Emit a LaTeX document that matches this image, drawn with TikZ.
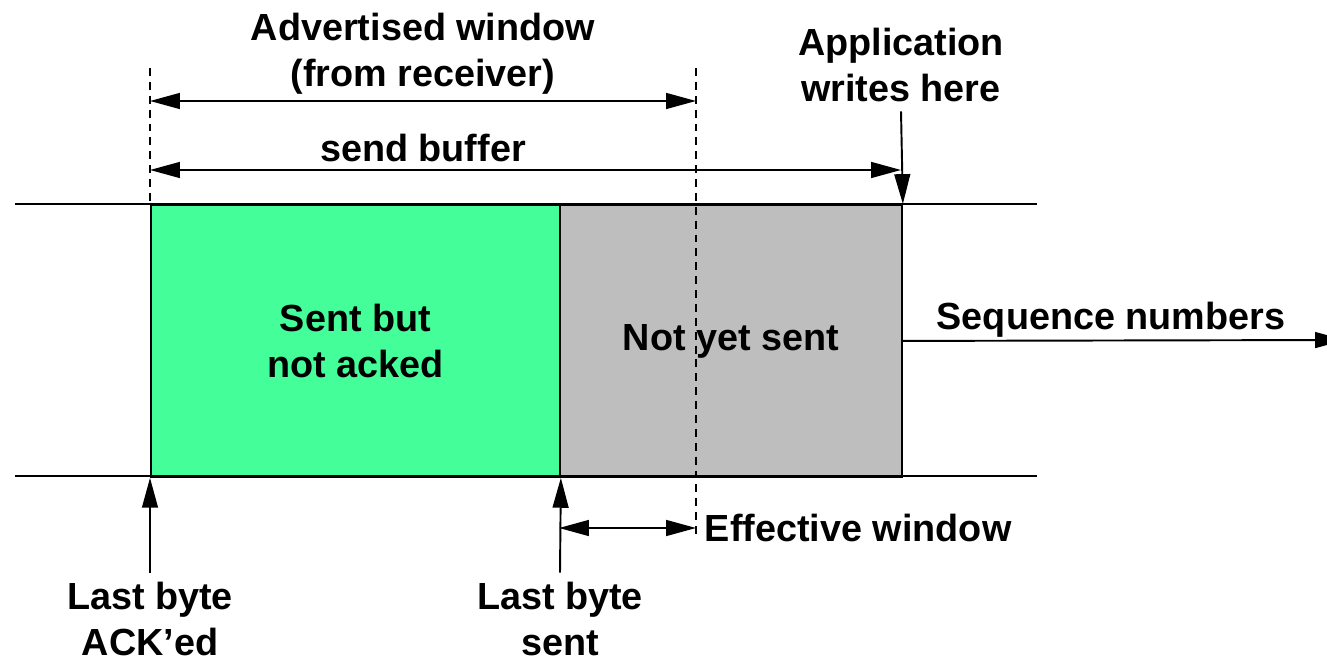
\documentclass[tikz,border=0pt]{standalone}
\usepackage{fontspec}
\setmainfont{Liberation Sans}
\usetikzlibrary{arrows.meta, positioning}
\definecolor{ackgreen}{RGB}{68,255,153}
\definecolor{unsentgray}{RGB}{190,190,190}

\begin{document}
\begin{tikzpicture}[x=0.02cm, y=-0.02cm, line width=1.1pt,
    >={Triangle[length=17pt, width=9pt]},
    lbl/.style={font=\fontsize{21.5}{26}\selectfont\bfseries, align=center, inner sep=0pt},
    bufbox/.style={draw, inner sep=0pt, anchor=north west, minimum height=5.44cm, lbl},
    winline/.style={dash pattern=on 4.5pt off 3.4pt}]
    \useasboundingbox (0,0) rectangle (1327,661);

    % the buffer
    \node[bufbox, fill=ackgreen, minimum width=8.18cm] (sent) at (150,204) {Sent but\\not acked};
    \node[bufbox, fill=unsentgray, minimum width=6.84cm] (unsent) at (559,204) {\raisebox{-2pt}{Not yet sent}};
    \draw (15,204) -- (1037,204);
    \draw (15,476) -- (1037,476);

    % window edges
    \coordinate (wintop) at (150,68);
    \coordinate (advtop) at (696,68);
    \coordinate (advlow) at (696,535);
    \draw[winline] (wintop) -- (sent.north west);
    \draw[winline] (advtop) -- (advlow);

    % labels on top
    \node[lbl] (adv) at (423,54) {Advertised window\\(from receiver)};
    \node[lbl] (buf) at (423,148) {send buffer};
    \node[lbl] (app) at (901,65) {Application\\writes here};
    \coordinate (advl) at (150,101);
    \coordinate (advr) at (696,101);
    \coordinate (bufl) at (150,170);
    \coordinate (bufr) at (901,170);
    \draw[<->] (advl) -- (advr);
    \draw[<->] (bufl) -- (bufr);
    \draw[->] ([yshift=-5pt]app.south) -- (unsent.north east);

    % sequence numbers
    \node[lbl] (seq) at (1111,320) {Sequence numbers};
    \coordinate (seqend) at (1345,340);
    \draw[->] (unsent.east) -- (seqend);

    % pointers below
    \node[lbl] (lastack) at (150,619) {Last byte\\ACK’ed};
    \node[lbl] (lastsent) at (560,619) {Last byte\\sent};
    \draw[->] ([yshift=5pt]lastack.north) -- (sent.south west);
    \draw[->] ([yshift=5pt]lastsent.north) -- (sent.south east);

    % effective window
    \coordinate (effl) at (559,528);
    \coordinate (effr) at (696,528);
    \draw[<->] (effl) -- (effr);
    \node[lbl, anchor=west] (eff) at (704,528) {Effective window};
\end{tikzpicture}
\end{document}
